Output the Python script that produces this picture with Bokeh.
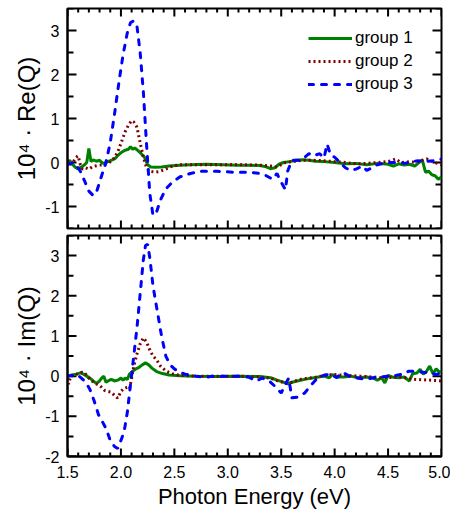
import numpy as np
from bokeh.plotting import figure
from bokeh.layouts import column
from bokeh.models import (LinearAxis, SingleIntervalTicker, Legend, LegendItem, Range1d,
                          NumeralTickFormatter)
from bokeh.embed import file_html
from bokeh.resources import INLINE

FONT = "Liberation Sans"

series_names = ["group 1", "group 2", "group 3"]
x_label = "Photon Energy (eV)"
y_label_re = "10\u2074 \u00b7 Re(Q)"
y_label_im = "10\u2074 \u00b7 Im(Q)"

# ---------- Re(Q) panel ----------
re_x1 = [1.50, 1.52, 1.54, 1.57, 1.60, 1.63, 1.66, 1.68, 1.70, 1.72, 1.74, 1.77, 1.80, 1.83, 1.86,
         1.89, 1.92, 1.95, 1.98, 2.01, 2.04, 2.07, 2.09, 2.11, 2.13, 2.16, 2.19, 2.22, 2.25, 2.28,
         2.32, 2.38, 2.45, 2.55, 2.65, 2.80, 2.95, 3.10, 3.20, 3.30, 3.36, 3.40, 3.44, 3.48, 3.52,
         3.58, 3.64, 3.70, 3.76, 3.82, 3.90, 4.00, 4.10, 4.20, 4.30, 4.40, 4.50, 4.55, 4.60, 4.65,
         4.70, 4.75, 4.80, 4.82, 4.85, 4.88, 4.91, 4.94, 4.97, 5.00]
re_y1 = [0.00, 0.05, -0.02, -0.10, -0.15, -0.10, -0.05, 0.00, 0.32, 0.02, 0.06, 0.03, 0.05, -0.02, 0.00,
         0.03, 0.06, 0.10, 0.18, 0.24, 0.28, 0.30, 0.36, 0.30, 0.33, 0.27, 0.20, 0.12, -0.05, -0.10,
         -0.11, -0.10, -0.08, -0.06, -0.05, -0.04, -0.05, -0.06, -0.06, -0.07, -0.10, -0.14, -0.12, -0.04, 0.00,
         0.02, 0.05, 0.06, 0.05, 0.03, 0.02, 0.00, -0.03, -0.02, -0.05, -0.02, -0.04, -0.08, -0.03, -0.06,
         -0.04, -0.08, 0.02, 0.06, -0.22, -0.20, -0.28, -0.30, -0.38, -0.33]

re_x2 = [1.50, 1.52, 1.55, 1.58, 1.60, 1.62, 1.64, 1.67, 1.70, 1.73, 1.76, 1.80, 1.84, 1.88, 1.92,
         1.95, 1.98, 2.01, 2.04, 2.07, 2.10, 2.12, 2.15, 2.18, 2.21, 2.24, 2.27, 2.32, 2.37, 2.43,
         2.48, 2.55, 2.70, 2.90, 3.10, 3.30, 3.40, 3.46, 3.50, 3.54, 3.60, 3.70, 3.80, 3.90, 4.00,
         4.10, 4.20, 4.30, 4.40, 4.50, 4.57, 4.62, 4.70, 4.76, 4.82, 4.86, 4.92, 4.96, 5.00]
re_y2 = [0.05, -0.05, 0.00, 0.12, 0.15, -0.05, -0.15, -0.12, -0.15, -0.10, -0.08, -0.06, -0.05, -0.02, 0.05,
         0.15, 0.30, 0.50, 0.70, 0.85, 0.95, 0.92, 0.80, 0.45, 0.12, -0.12, -0.20, -0.22, -0.20, -0.14,
         -0.08, -0.05, -0.05, -0.05, -0.05, -0.06, -0.08, -0.10, -0.05, 0.00, 0.02, 0.05, 0.05, 0.04, 0.02,
         0.00, -0.03, -0.02, 0.00, 0.02, 0.08, 0.00, 0.02, 0.00, 0.05, 0.08, 0.02, -0.02, -0.05]

re_x3 = [1.50, 1.55, 1.58, 1.62, 1.66, 1.70, 1.74, 1.77, 1.80, 1.83, 1.86, 1.90, 1.94, 1.98, 2.02,
         2.06, 2.09, 2.12, 2.15, 2.18, 2.21, 2.24, 2.27, 2.30, 2.33, 2.37, 2.42, 2.48, 2.55, 2.65,
         2.75, 2.90, 3.05, 3.20, 3.30, 3.36, 3.42, 3.46, 3.50, 3.54, 3.56, 3.60, 3.66, 3.72, 3.76,
         3.80, 3.86, 3.90, 3.93, 3.96, 4.00, 4.05, 4.10, 4.15, 4.20, 4.26, 4.30, 4.35, 4.40, 4.46,
         4.52, 4.60, 4.66, 4.72, 4.78, 4.85, 4.92, 5.00]
re_y3 = [-0.05, 0.00, -0.05, -0.20, -0.42, -0.65, -0.75, -0.68, -0.45, -0.22, 0.00, 0.45, 1.10, 1.80, 2.45,
         2.95, 3.18, 3.22, 3.10, 2.50, 1.60, 0.40, -0.70, -1.20, -1.15, -0.85, -0.60, -0.45, -0.33, -0.25,
         -0.20, -0.20, -0.22, -0.22, -0.25, -0.30, -0.38, -0.25, -0.45, -0.62, -0.20, 0.05, 0.05, 0.12, 0.20,
         0.15, 0.20, 0.10, 0.42, 0.18, 0.12, 0.00, -0.12, -0.18, -0.15, -0.08, -0.18, -0.12, -0.05, -0.02,
         0.00, 0.00, -0.02, 0.02, 0.04, 0.02, 0.04, 0.08]

# ---------- Im(Q) panel ----------
im_x1 = [1.50, 1.54, 1.58, 1.62, 1.65, 1.68, 1.71, 1.74, 1.77, 1.80, 1.82, 1.84, 1.86, 1.88, 1.91,
         1.94, 1.97, 2.00, 2.02, 2.04, 2.06, 2.08, 2.11, 2.14, 2.17, 2.20, 2.23, 2.26, 2.29, 2.33,
         2.38, 2.45, 2.55, 2.70, 2.90, 3.10, 3.30, 3.40, 3.46, 3.52, 3.56, 3.60, 3.65, 3.72, 3.78,
         3.85, 3.90, 3.95, 3.98, 4.02, 4.08, 4.15, 4.22, 4.30, 4.36, 4.40, 4.44, 4.47, 4.50, 4.55,
         4.60, 4.65, 4.70, 4.73, 4.77, 4.80, 4.83, 4.86, 4.89, 4.92, 4.95, 4.98, 5.00]
im_y1 = [0.00, 0.03, 0.05, 0.08, 0.05, 0.00, -0.05, -0.12, -0.18, -0.12, -0.05, 0.00, -0.15, -0.12, -0.08,
         -0.12, -0.10, -0.05, -0.10, -0.05, -0.08, 0.05, 0.12, 0.18, 0.22, 0.28, 0.33, 0.28, 0.20, 0.12,
         0.07, 0.03, 0.01, 0.00, -0.01, 0.00, -0.01, -0.04, -0.10, -0.15, -0.19, -0.15, -0.12, -0.08, -0.05,
         -0.02, 0.00, -0.04, 0.04, -0.02, -0.02, 0.00, -0.04, -0.02, -0.05, -0.10, -0.04, -0.17, 0.02, -0.03,
         -0.04, -0.02, -0.12, 0.06, 0.08, 0.17, 0.05, 0.12, 0.25, 0.06, 0.18, 0.10, 0.12]

im_x2 = [1.50, 1.51, 1.53, 1.57, 1.61, 1.64, 1.67, 1.70, 1.73, 1.76, 1.79, 1.82, 1.85, 1.88, 1.91,
         1.94, 1.97, 2.00, 2.03, 2.06, 2.08, 2.10, 2.12, 2.15, 2.18, 2.21, 2.24, 2.27, 2.30, 2.33,
         2.37, 2.42, 2.48, 2.55, 2.70, 2.90, 3.10, 3.30, 3.40, 3.47, 3.53, 3.57, 3.62, 3.68, 3.75,
         3.82, 3.92, 4.00, 4.10, 4.24, 4.35, 4.45, 4.55, 4.62, 4.70, 4.75, 4.82, 4.90, 5.00]
im_y2 = [-0.05, -0.20, 0.00, 0.02, 0.08, 0.10, 0.05, -0.05, -0.12, -0.18, -0.22, -0.28, -0.36, -0.38, -0.40,
         -0.48, -0.55, -0.38, -0.30, -0.28, -0.32, -0.05, 0.25, 0.55, 0.80, 0.95, 0.85, 0.65, 0.50, 0.42,
         0.25, 0.13, 0.06, 0.02, 0.00, 0.00, 0.00, -0.02, -0.05, -0.12, -0.16, -0.19, -0.13, -0.08, -0.05,
         -0.03, 0.03, 0.04, 0.02, 0.00, -0.02, -0.04, -0.03, -0.02, -0.06, -0.08, -0.09, -0.10, -0.12]

im_x3 = [1.50, 1.55, 1.59, 1.63, 1.67, 1.71, 1.75, 1.79, 1.83, 1.86, 1.90, 1.94, 1.97, 2.00, 2.03,
         2.06, 2.09, 2.12, 2.15, 2.18, 2.21, 2.23, 2.25, 2.27, 2.30, 2.34, 2.38, 2.42, 2.46, 2.50,
         2.55, 2.60, 2.70, 2.80, 2.85, 2.95, 3.10, 3.20, 3.27, 3.32, 3.38, 3.44, 3.50, 3.54, 3.57,
         3.60, 3.66, 3.72, 3.78, 3.84, 3.90, 3.96, 4.02, 4.06, 4.10, 4.15, 4.20, 4.30, 4.36, 4.42,
         4.50, 4.58, 4.64, 4.69, 4.75, 4.82, 4.89, 4.95, 5.00]
im_y3 = [0.00, 0.02, 0.04, -0.05, -0.15, -0.33, -0.62, -0.96, -1.15, -1.30, -1.60, -1.75, -1.80, -1.60, -1.38,
         -0.90, -0.20, 0.50, 1.20, 2.05, 2.90, 3.25, 3.28, 2.95, 2.25, 1.62, 1.00, 0.50, 0.28, 0.18,
         0.10, 0.05, 0.00, -0.03, 0.00, 0.00, 0.00, -0.03, -0.12, -0.05, -0.10, -0.25, -0.42, -0.20, -0.05,
         -0.54, -0.52, -0.42, -0.22, -0.05, 0.02, 0.05, -0.04, 0.08, 0.06, -0.02, -0.04, -0.08, -0.04, -0.02,
         0.00, 0.02, 0.05, 0.12, 0.12, 0.10, 0.08, 0.04, 0.08]

colors = ["#008000", "#800000", "#0000FF"]
dashes = ["solid", "2 3", "5 8"]
caps = ["butt", "butt", "round"]

X0, X1 = 1.5, 5.0
FIG_W, B_LEFT, B_RIGHT = 450, 67, 9


def style_axis(ax, is_x):
    ax.ticker = SingleIntervalTicker(interval=0.5 if is_x else 1, num_minor_ticks=5 if is_x else 2)
    ax.major_tick_in = 0
    ax.minor_tick_in = 0
    ax.major_tick_out = 0
    ax.minor_tick_out = 0
    ax.axis_line_width = 2
    ax.formatter = NumeralTickFormatter(format="0.0" if is_x else "0")
    ax.major_label_text_font = FONT
    ax.major_label_text_font_size = "16px"
    ax.major_label_text_color = "black"
    ax.major_label_standoff = 9 if is_x else 8
    ax.axis_label_text_font = FONT
    ax.axis_label_text_font_size = "22px" if is_x else "24px"
    ax.axis_label_text_font_style = "normal"
    ax.axis_label_text_color = "black"
    ax.axis_label_standoff = 3 if is_x else 2


def add_ticks(p, y0, y1, frame_h):
    """Inward ticks on all four sides, placed through the plot's own scales."""
    frame_w = FIG_W - B_LEFT - B_RIGHT
    dx = (X1 - X0) / frame_w      # data units per pixel, x
    dy = (y1 - y0) / frame_h      # data units per pixel, y
    xt = np.round(np.arange(X0, X1 + 1e-9, 0.1), 2)
    xlen = np.where(np.isclose((xt * 2) % 1, 0) | np.isclose((xt * 2) % 1, 1), 8, 4) * dy
    yt = np.round(np.arange(y0, y1 + 1e-9, 0.5), 2)
    ylen = np.where(np.isclose(yt % 1, 0), 9, 6) * dx
    kw = dict(line_color="black", line_width=2)
    p.segment(x0=xt, y0=np.full(len(xt), y0), x1=xt, y1=y0 + xlen, **kw)
    p.segment(x0=xt, y0=np.full(len(xt), y1), x1=xt, y1=y1 - xlen, **kw)
    p.segment(x0=np.full(len(yt), X0), y0=yt, x1=X0 + ylen, y1=yt, **kw)
    p.segment(x0=np.full(len(yt), X1), y0=yt, x1=X1 - ylen, y1=yt, **kw)


def make_fig(height, y0, y1, btop, bbot, is_bottom, ylabel):
    p = figure(width=FIG_W, height=height, x_range=Range1d(X0, X1), y_range=Range1d(y0, y1),
               output_backend="svg", toolbar_location=None,
               x_axis_location=None, y_axis_location=None,
               min_border_left=B_LEFT, min_border_right=B_RIGHT,
               min_border_top=btop, min_border_bottom=bbot)
    p.grid.visible = False
    p.outline_line_color = "black"
    p.outline_line_width = 2
    left = LinearAxis(axis_label=ylabel)
    style_axis(left, False)
    p.add_layout(left, "left")
    if is_bottom:
        below = LinearAxis(axis_label=x_label)
        style_axis(below, True)
        p.add_layout(below, "below")
    add_ticks(p, y0, y1, height - btop - bbot)
    return p


p1 = make_fig(230, -1.5, 3.5, 8, 2, False, y_label_re)
p2 = make_fig(283, -2.0, 3.5, 5, 57, True, y_label_im)

renderers = []
for xs, ys, c, d, cap in zip([re_x1, re_x2, re_x3], [re_y1, re_y2, re_y3], colors, dashes, caps):
    renderers.append(p1.line(xs, ys, line_color=c, line_width=3, line_dash=d, line_cap=cap))
for xs, ys, c, d, cap in zip([im_x1, im_x2, im_x3], [im_y1, im_y2, im_y3], colors, dashes, caps):
    p2.line(xs, ys, line_color=c, line_width=3, line_dash=d, line_cap=cap)

legend = Legend(items=[LegendItem(label=n, renderers=[r]) for n, r in zip(series_names, renderers)],
                location=(241, 134), padding=0, margin=0, spacing=3,
                glyph_width=44, glyph_height=20, label_height=20, label_standoff=3,
                label_text_font=FONT, label_text_font_size="17px", label_text_color="black",
                border_line_color=None, background_fill_alpha=0)
p1.add_layout(legend)

layout = column(p1, p2, spacing=0)
open("out.html", "w").write(file_html(layout, INLINE))
